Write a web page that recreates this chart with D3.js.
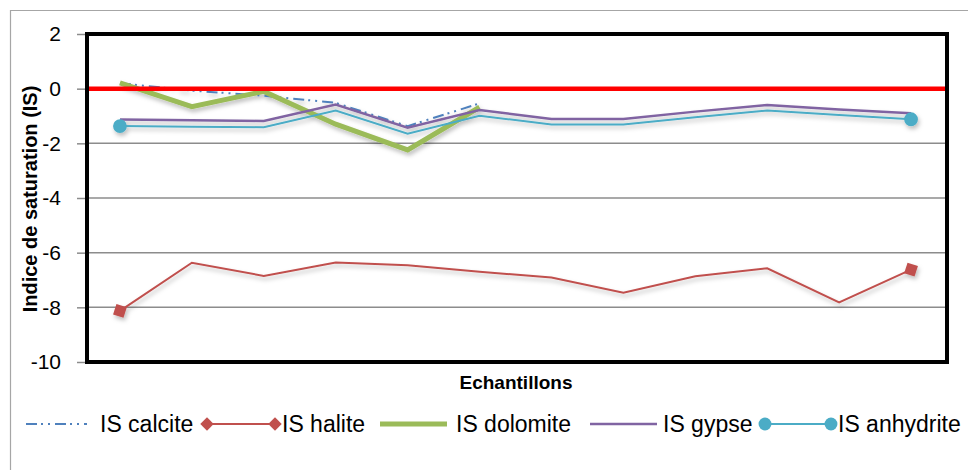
<!DOCTYPE html>
<html lang="fr">
  <head>
    <meta charset="utf-8" />
    <title>Indice de saturation</title>
    <script src="https://d3js.org/d3.v7.min.js"></script>
    <style type="text/css">
      body { margin: 0; background: #fff; }
      text { font-family: "Liberation Sans", Arial, sans-serif; fill: #000; }
    </style>
  </head>
  <body>
    <script type="text/javascript">
      // samples (no labels shown on the x axis)
      const samples = ["E1", "E2", "E3", "E4", "E5", "E6", "E7", "E8", "E9", "E10", "E11", "E12"];

      const calcite = [0.2, -0.07, -0.26, -0.52, -1.37, -0.54, null, null, null, null, null, null];
      const halite = [-8.13, -6.37, -6.85, -6.36, -6.46, -6.7, -6.91, -7.47, -6.86, -6.57, -7.82, -6.62];
      const dolomite = [0.21, -0.66, -0.1, -1.3, -2.24, -0.68, null, null, null, null, null, null];
      const gypse = [-1.13, -1.16, -1.18, -0.58, -1.43, -0.78, -1.11, -1.11, -0.84, -0.6, -0.76, -0.9];
      const anhydrite = [-1.37, -1.39, -1.41, -0.8, -1.65, -0.99, -1.31, -1.31, -1.05, -0.8, -0.96, -1.12];

      const yTicks = [2, 0, -2, -4, -6, -8, -10];

      const series = [
        { name: "IS calcite", values: calcite, color: "#4F81BD", width: 2, dash: "11,4,2,5,2,5", marker: null },
        { name: "IS halite", values: halite, color: "#C0504D", width: 2, dash: null, marker: "diamond" },
        { name: "IS dolomite", values: dolomite, color: "#9BBB59", width: 5, dash: null, marker: null },
        { name: "IS gypse", values: gypse, color: "#8064A2", width: 2.5, dash: null, marker: null },
        { name: "IS anhydrite", values: anhydrite, color: "#4BACC6", width: 2, dash: null, marker: "circle" }
      ];

      const w = 968;
      const h = 470;
      const plot = { left: 87, right: 947, top: 34, bottom: 362 };

      const svg = d3.select("body").append("svg")
        .attr("width", w)
        .attr("height", h);

      // soft excel-like shadow
      const filter = svg.append("defs").append("filter")
        .attr("id", "shadow")
        .attr("x", "-10%").attr("y", "-50%")
        .attr("width", "120%").attr("height", "200%");
      filter.append("feDropShadow")
        .attr("dx", 1.5).attr("dy", 3)
        .attr("stdDeviation", 2)
        .attr("flood-color", "#000")
        .attr("flood-opacity", 0.25);

      // outer chart frame
      svg.append("path")
        .attr("d", "M10.5," + h + "V10.5H" + w)
        .attr("fill", "none")
        .attr("stroke", "#a6a6a6")
        .attr("stroke-width", 1.2);

      const xScale = d3.scalePoint()
        .domain(samples)
        .range([84, 947])
        .padding(0.5);

      const yScale = d3.scaleLinear()
        .domain([-10, 2])
        .range([plot.bottom, plot.top]);

      // gridlines
      svg.append("g")
        .selectAll("line")
        .data(yTicks.filter(function (d) { return d < 2 && d > -10; }))
        .enter()
        .append("line")
        .attr("x1", plot.left)
        .attr("x2", plot.right)
        .attr("y1", function (d) { return yScale(d); })
        .attr("y2", function (d) { return yScale(d); })
        .attr("stroke", "#8c8c8c")
        .attr("stroke-width", 1.5);

      // y axis ticks and labels
      const yAxis = d3.axisLeft(yScale)
        .tickValues(yTicks)
        .tickSize(9)
        .tickPadding(16)
        .tickFormat(d3.format("d"));

      const yG = svg.append("g")
        .attr("transform", "translate(" + (plot.left - 1) + ",0)")
        .call(yAxis);
      yG.select(".domain").remove();
      yG.selectAll(".tick line").attr("stroke", "#8c8c8c").attr("stroke-width", 1.5);
      yG.selectAll(".tick text")
        .attr("font-size", 21)
        .attr("font-family", "Liberation Sans, Arial, sans-serif")
        .attr("fill", "#000")
        .text(function (d) { return d < 0 ? "-" + Math.abs(d) : d; });

      // lines
      const line = d3.line()
        .defined(function (d) { return d.v !== null; })
        .x(function (d) { return xScale(d.s); })
        .y(function (d) { return yScale(d.v); });

      const linesG = svg.append("g").attr("filter", "url(#shadow)");

      series.forEach(function (s) {
        const pts = s.values.map(function (v, i) { return { s: samples[i], v: v }; });
        linesG.append("path")
          .datum(pts)
          .attr("d", line)
          .attr("fill", "none")
          .attr("stroke", s.color)
          .attr("stroke-width", s.width)
          .attr("stroke-linejoin", "miter")
          .attr("stroke-dasharray", s.dash);

        if (s.marker) {
          const ends = [pts[0], pts[pts.length - 1]];
          linesG.selectAll(null)
            .data(ends)
            .enter()
            .append("path")
            .attr("d", s.marker === "circle"
              ? d3.symbol(d3.symbolCircle, 150)()
              : d3.symbol(d3.symbolSquare, 120)())
            .attr("transform", function (d) {
              return "translate(" + xScale(d.s) + "," + yScale(d.v) + ")" +
                (s.marker === "diamond" ? " rotate(18)" : "");
            })
            .attr("fill", s.color);
        }
      });

      // zero line
      svg.append("line")
        .attr("x1", plot.left)
        .attr("x2", plot.right + 1)
        .attr("y1", yScale(0))
        .attr("y2", yScale(0))
        .attr("stroke", "#ff0000")
        .attr("stroke-width", 4.5);

      // plot border
      svg.append("rect")
        .attr("x", plot.left)
        .attr("y", plot.top)
        .attr("width", plot.right - plot.left)
        .attr("height", plot.bottom - plot.top)
        .attr("fill", "none")
        .attr("stroke", "#000")
        .attr("stroke-width", 4);

      // axis titles
      svg.append("text")
        .attr("transform", "translate(37,199) rotate(-90)")
        .attr("text-anchor", "middle")
        .attr("font-size", 20)
        .attr("font-weight", "bold")
        .text("Indice de saturation (IS)");

      svg.append("text")
        .attr("x", 516)
        .attr("y", 389)
        .attr("text-anchor", "middle")
        .attr("font-size", 19)
        .attr("font-weight", "bold")
        .text("Echantillons");

      // legend
      const legendY = 424;
      const legendItems = [
        { x1: 26, x2: 87, tx: 100 },
        { x1: 207, x2: 275, tx: 282 },
        { x1: 380, x2: 447, tx: 456 },
        { x1: 590, x2: 657, tx: 663 },
        { x1: 765, x2: 831, tx: 838 }
      ];

      const legend = svg.append("g");
      series.forEach(function (s, i) {
        const it = legendItems[i];
        legend.append("line")
          .attr("x1", it.x1).attr("x2", it.x2)
          .attr("y1", legendY).attr("y2", legendY)
          .attr("stroke", s.color)
          .attr("stroke-width", s.width)
          .attr("stroke-dasharray", s.dash);
        if (s.marker) {
          [it.x1, it.x2].forEach(function (mx) {
            legend.append("path")
              .attr("d", s.marker === "circle"
                ? d3.symbol(d3.symbolCircle, 130)()
                : d3.symbol(d3.symbolSquare, 90)())
              .attr("transform", "translate(" + mx + "," + legendY + ")" +
                (s.marker === "diamond" ? " rotate(45)" : ""))
              .attr("fill", s.color);
          });
        }
        legend.append("text")
          .attr("x", it.tx)
          .attr("y", legendY + 8)
          .attr("font-size", 23)
          .text(s.name);
      });
    </script>
  </body>
</html>
